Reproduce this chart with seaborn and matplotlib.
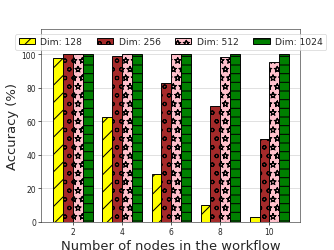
import matplotlib
matplotlib.use("Agg")
import matplotlib.pyplot as plt
import matplotlib.hatch as mhatch
import pandas as pd
import seaborn as sns

nodes = ["2", "4", "6", "8", "10"]
dims = ["Dim: 128", "Dim: 256", "Dim: 512", "Dim: 1024"]
acc_128 = [98, 62.5, 28.5, 10, 3]
acc_256 = [100, 99, 83, 69.5, 49.5]
acc_512 = [100, 100, 100, 98.5, 95.5]
acc_1024 = [100, 100, 100, 100, 100]

colors = ["yellow", "brown", "pink", "green"]
hatches = ["/", "o", "*", "-"]


# hollow stars, the default '*' hatch draws them filled
class HollowStars(mhatch.Stars):
    filled = False


mhatch._hatch_types = [HollowStars if t is mhatch.Stars else t for t in mhatch._hatch_types]

sns.set_style("whitegrid", {"axes.edgecolor": "0.15", "xtick.bottom": True, "ytick.left": True,
                            "grid.color": "0.8"})
plt.rcParams["font.family"] = ["DejaVu Sans"]
plt.rcParams["hatch.linewidth"] = 1.4

rows = []
for dim, vals in zip(dims, [acc_128, acc_256, acc_512, acc_1024]):
    for n, v in zip(nodes, vals):
        rows.append({"nodes": n, "accuracy": v, "dim": dim})
df = pd.DataFrame(rows)

fig = plt.figure(figsize=(6.4, 4.8))
ax = fig.add_axes([0.123, 0.112, 0.775, 0.768])
sns.barplot(data=df, x="nodes", y="accuracy", hue="dim", hue_order=dims, order=nodes,
            palette=colors, edgecolor="black", linewidth=1.3, saturation=1, legend=False, ax=ax)

for cont, h in zip(ax.containers, hatches):
    for p in cont.patches:
        p.set_hatch(h)

ax.set_xlim(-0.65, 4.63)
ax.set_ylim(0, 115)
ax.set_yticks([0, 20, 40, 60, 80, 100])
ax.tick_params(labelsize=10.5, length=3.5, width=1, color="0.15")
ax.set_xlabel("Number of nodes in the workflow", fontsize=18)
ax.set_ylabel("Accuracy (%)", fontsize=18)
ax.legend(ax.containers, dims, loc="upper center", ncol=4, fontsize=12.5,
          handlelength=1.8, columnspacing=1.6, handletextpad=0.6)

fig.savefig("out.png", dpi=52.25)
